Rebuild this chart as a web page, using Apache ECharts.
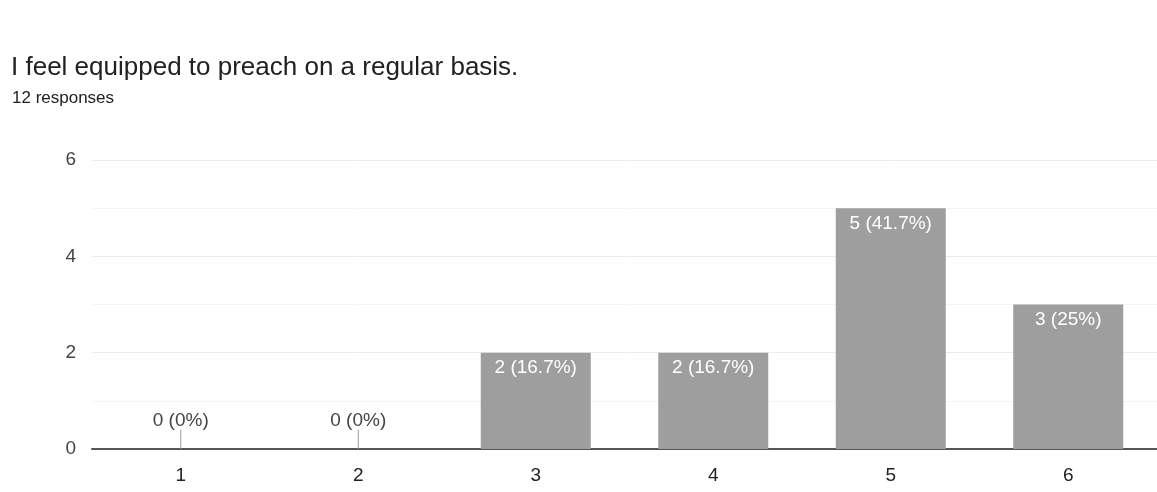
<!DOCTYPE html>
<html>
<head>
<meta charset="utf-8">
<script src="https://cdn.jsdelivr.net/npm/echarts@6/dist/echarts.min.js"></script>
<style>
  html, body { margin: 0; padding: 0; background: #fff; }
  #chart { width: 1157px; height: 492px; }
</style>
</head>
<body>
<div id="chart"></div>
<script>
const titleText = 'I feel equipped to preach on a regular basis.';
const subtitleText = '12 responses';
const categories = ['1', '2', '3', '4', '5', '6'];
const counts = [0, 0, 2, 2, 5, 3];
const percents = ['0%', '0%', '16.7%', '16.7%', '41.7%', '25%'];

const FONT = '"Liberation Sans", Arial, sans-serif';
const chart = echarts.init(document.getElementById('chart'), null, { renderer: 'canvas' });

const labelFor = i => counts[i] + ' (' + percents[i] + ')';

chart.setOption({
  animation: false,
  title: [
    { text: titleText, left: 6, top: 50,
      textStyle: { fontFamily: FONT, fontSize: 26, fontWeight: 'normal', color: '#202124' } },
    { text: subtitleText, left: 7, top: 85,
      textStyle: { fontFamily: FONT, fontSize: 17, fontWeight: 'normal', color: '#202124' } }
  ],
  grid: { left: 92, right: -4, top: 160, bottom: 43, containLabel: false },
  xAxis: {
    type: 'category',
    data: categories,
    axisLine: { lineStyle: { color: '#555', width: 2 } },
    axisTick: { show: false },
    axisLabel: { fontFamily: FONT, fontSize: 19, color: '#222', margin: 17 }
  },
  yAxis: {
    type: 'value',
    min: 0, max: 6, interval: 2,
    axisLine: { show: false },
    axisTick: { show: false },
    axisLabel: { fontFamily: FONT, fontSize: 19, color: '#444', margin: 16 },
    splitLine: { lineStyle: { color: '#ebebeb', width: 1 } },
    minorTick: { show: false, splitNumber: 2 },
    minorSplitLine: { show: true, lineStyle: { color: '#f4f4f4', width: 1 } }
  },
  series: [
    {
      type: 'bar',
      data: counts,
      barWidth: 110,
      itemStyle: { color: '#9e9e9e' },
      label: {
        show: true,
        position: 'insideTop',
        distance: 6,
        fontFamily: FONT, fontSize: 19, color: '#fff',
        formatter: p => p.value > 0 ? labelFor(p.dataIndex) : ''
      },
      z: 2
    },
    {
      // stub marker and label for categories with no responses
      type: 'custom',
      data: counts.map((v, i) => [i, v]),
      renderItem: (params, api) => {
        const v = api.value(1);
        if (v !== 0) return null;
        const base = api.coord([api.value(0), 0]);
        const top = api.coord([api.value(0), 0.4]);
        return {
          type: 'group',
          children: [
            { type: 'line', shape: { x1: base[0], y1: base[1], x2: base[0], y2: top[1] },
              style: { stroke: '#999', lineWidth: 1 } },
            { type: 'text', x: base[0], y: top[1] + 1,
              style: { text: labelFor(params.dataIndex), fill: '#444', font: '19px ' + FONT,
                       align: 'center', verticalAlign: 'bottom' } }
          ]
        };
      },
      z: 3
    }
  ]
});
</script>
</body>
</html>
